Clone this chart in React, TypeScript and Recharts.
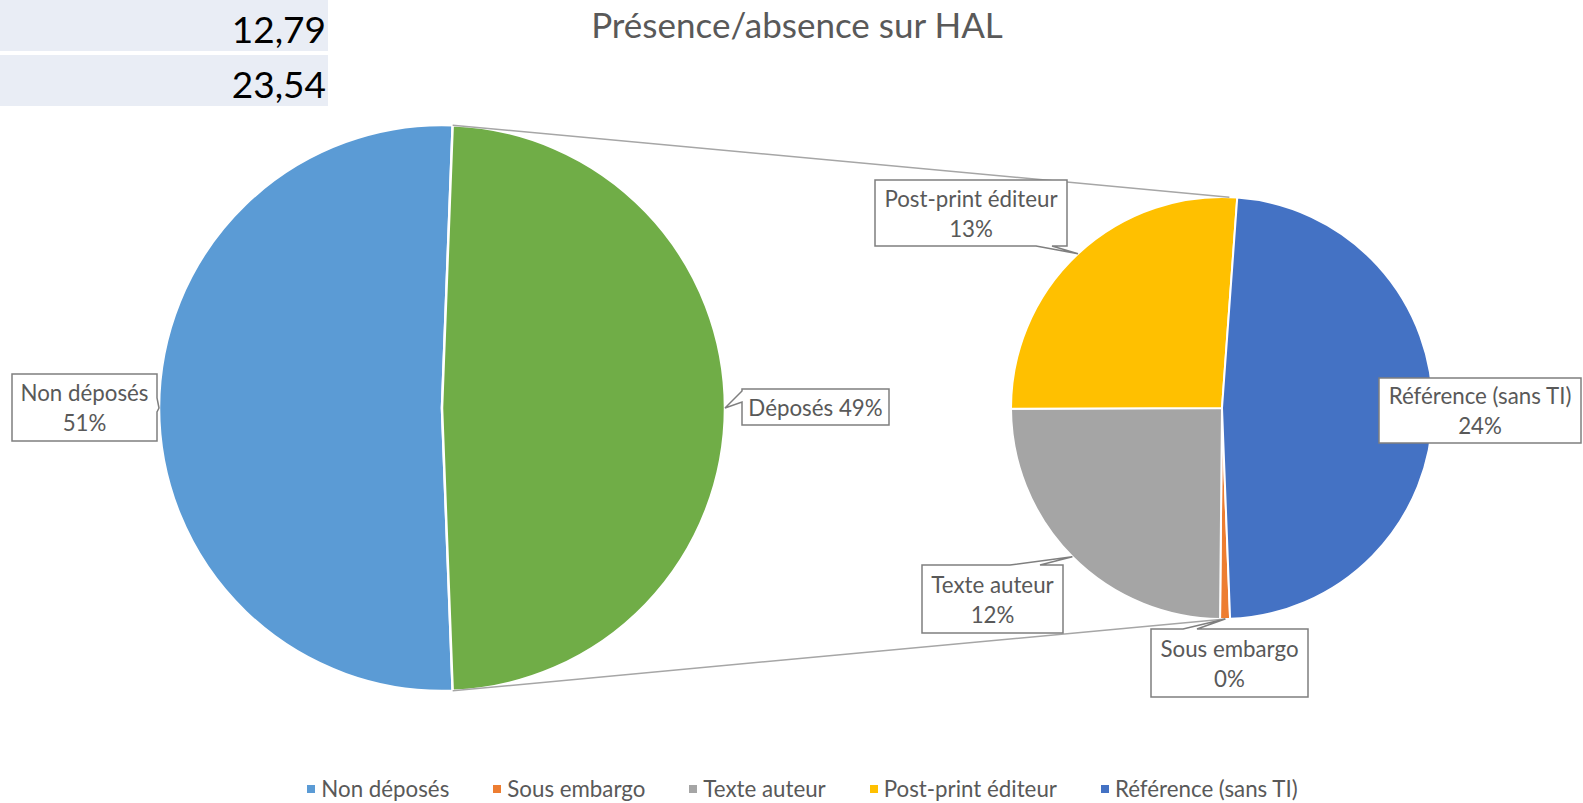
import React from 'react';
import { PieChart, Pie, Cell, Legend } from 'recharts';

// ---- data ----
const mainNames = ['Non déposés', 'Déposés'];
const mainValues = [51.2, 48.8];
const subNames = ['Sous embargo', 'Texte auteur', 'Post-print éditeur', 'Référence (sans TI)'];
const subValues = [0.37, 12.1, 12.79, 23.54];
const cellValues = ['12,79', '23,54'];
const titleText = 'Présence/absence sur HAL';

const mainColors = ['#5B9BD5', '#70AD47'];
const subColors = ['#ED7D31', '#A5A5A5', '#FFC000', '#4472C4'];

const mainData = mainNames.map((name, i) => ({ name, value: mainValues[i] }));
const subData = subNames.map((name, i) => ({ name, value: subValues[i] }));
const total = mainValues.reduce((a, b) => a + b, 0);
const legendItems = [
  { name: mainNames[0], color: mainColors[0] },
  ...subNames.map((name, i) => ({ name, color: subColors[i] })),
];

const FONT = 'Lato, "Open Sans", sans-serif';
const TEXT = '#595959';
const BORDER = '#7F7F7F';
const LABEL_FS = 22.3;

// layout
const W = 1583;
const H = 803;
const M = { cx: 442, cy: 408, r: 283 };
const S = { cx: 1222, cy: 408, r: 211 };

type Box = { x: number; y: number; w: number; h: number; edge?: 'top' | 'right' | 'bottom' | 'left'; b?: [number, number]; oneLine?: boolean };
const boxes: Record<string, Box> = {
  'Non déposés': { x: 12, y: 374, w: 145, h: 67, edge: 'right', b: [398, 412] },
  'Déposés': { x: 742, y: 389, w: 147, h: 36, edge: 'left', b: [391, 402], oneLine: true },
  'Post-print éditeur': { x: 875, y: 180, w: 192, h: 66, edge: 'bottom', b: [1036, 1052] },
  'Référence (sans TI)': { x: 1379, y: 378, w: 202, h: 65 },
  'Texte auteur': { x: 922, y: 565, w: 141, h: 68, edge: 'top', b: [1010, 1040] },
  'Sous embargo': { x: 1151, y: 629, w: 157, h: 68, edge: 'top', b: [1183, 1197] },
};

const RAD = Math.PI / 180;
const polar = (cx: number, cy: number, r: number, a: number) => [cx + r * Math.cos(-a * RAD), cy + r * Math.sin(-a * RAD)];

function calloutPath(bx: Box, tx: number, ty: number) {
  const { x, y, w, h, edge, b } = bx;
  let d = `M${x},${y} `;
  if (edge === 'top' && b) d += `L${b[0]},${y} L${tx},${ty} L${b[1]},${y} `;
  d += `L${x + w},${y} `;
  if (edge === 'right' && b) d += `L${x + w},${b[0]} L${tx},${ty} L${x + w},${b[1]} `;
  d += `L${x + w},${y + h} `;
  if (edge === 'bottom' && b) d += `L${b[1]},${y + h} L${tx},${ty} L${b[0]},${y + h} `;
  d += `L${x},${y + h} `;
  if (edge === 'left' && b) d += `L${x},${b[1]} L${tx},${ty} L${x},${b[0]} `;
  return d + 'Z';
}

function makeLabel(isMain: boolean) {
  return (props: any) => {
    const { cx, cy, outerRadius, midAngle, name, value, startAngle, endAngle } = props;
    const bx = boxes[name];
    if (!bx) return null;
    const [tx, ty] = polar(cx, cy, outerRadius, midAngle);
    const pct = Math.round((value / total) * 100) + '%';
    const mx = bx.x + bx.w / 2;
    const my = bx.y + bx.h / 2;
    let lines: React.ReactNode = null;
    if (isMain && name === 'Déposés') {
      const [x1, y1] = polar(cx, cy, outerRadius, Math.max(startAngle, endAngle));
      const [x2, y2] = polar(cx, cy, outerRadius, Math.min(startAngle, endAngle));
      const [sx1, sy1] = polar(S.cx, S.cy, S.r, 88);
      const [sx2, sy2] = polar(S.cx, S.cy, S.r, -89);
      lines = (
        <g stroke="#A6A6A6" strokeWidth={1.5}>
          <line x1={x1} y1={y1} x2={sx1} y2={sy1} />
          <line x1={x2} y1={y2} x2={sx2} y2={sy2} />
        </g>
      );
    }
    return (
      <g>
        {lines}
        <path d={calloutPath(bx, tx, ty)} fill="#fff" stroke={BORDER} strokeWidth={1.5} />
        {bx.oneLine ? (
          <text x={mx} y={my} textAnchor="middle" dominantBaseline="central" fill={TEXT} fontSize={LABEL_FS} fontFamily={FONT}>
            {name} {pct}
          </text>
        ) : (
          <text textAnchor="middle" fill={TEXT} fontSize={LABEL_FS} fontFamily={FONT}>
            <tspan x={mx} y={my - 15} dominantBaseline="central">{name}</tspan>
            <tspan x={mx} y={my + 15} dominantBaseline="central">{pct}</tspan>
          </text>
        )}
      </g>
    );
  };
}

const renderLegend = () => (
  <div style={{ display: 'flex', justifyContent: 'center', gap: 44, paddingLeft: 22, fontFamily: FONT, fontSize: LABEL_FS, color: TEXT }}>
    {legendItems.map((p) => (
      <div key={p.name} style={{ display: 'flex', alignItems: 'center' }}>
        <span style={{ width: 8, height: 8, background: p.color, marginRight: 6, display: 'inline-block' }} />
        <span>{p.name}</span>
      </div>
    ))}
  </div>
);

export default function App() {
  const mainHalf = (mainValues[1] / total) * 180;
  return (
    <div style={{ position: 'absolute', left: 0, top: 0, width: W, height: H, background: '#fff', fontFamily: FONT }}>
      <PieChart width={W} height={H} margin={{ top: 0, right: 0, bottom: 0, left: 0 }}>
        <Pie
          data={mainData}
          dataKey="value"
          nameKey="name"
          cx={M.cx}
          cy={M.cy}
          outerRadius={M.r}
          startAngle={mainHalf}
          endAngle={mainHalf + 360}
          stroke="#fff"
          strokeWidth={2.5}
          label={makeLabel(true)}
          labelLine={false}
          isAnimationActive={false}
        >
          {mainData.map((d, i) => (
            <Cell key={d.name} fill={mainColors[i]} />
          ))}
        </Pie>
        <Pie
          data={subData}
          dataKey="value"
          nameKey="name"
          cx={S.cx}
          cy={S.cy}
          outerRadius={S.r}
          startAngle={272.2}
          endAngle={-87.8}
          stroke="#fff"
          strokeWidth={2}
          label={makeLabel(false)}
          labelLine={false}
          isAnimationActive={false}
        >
          {subData.map((d, i) => (
            <Cell key={d.name} fill={subColors[i]} />
          ))}
        </Pie>
        <Legend content={renderLegend} wrapperStyle={{ position: 'absolute', top: 775, left: 0, width: W, bottom: 'auto' }} />
      </PieChart>
      <div style={{ position: 'absolute', left: 0, top: 0, width: 328, height: 51, background: '#E9EDF5' }} />
      <div style={{ position: 'absolute', left: 0, top: 55, width: 328, height: 51, background: '#E9EDF5' }} />
      <div style={{ position: 'absolute', right: W - 326, top: 0, height: 51, lineHeight: '58px', fontSize: 37, color: '#000', fontFamily: FONT }}>
        {cellValues[0]}
      </div>
      <div style={{ position: 'absolute', right: W - 326, top: 55, height: 51, lineHeight: '58px', fontSize: 37, color: '#000', fontFamily: FONT }}>
        {cellValues[1]}
      </div>
      <div style={{ position: 'absolute', left: 0, width: 1594, top: 3, textAlign: 'center', fontSize: 35, color: TEXT, fontFamily: FONT }}>
        {titleText}
      </div>
    </div>
  );
}
